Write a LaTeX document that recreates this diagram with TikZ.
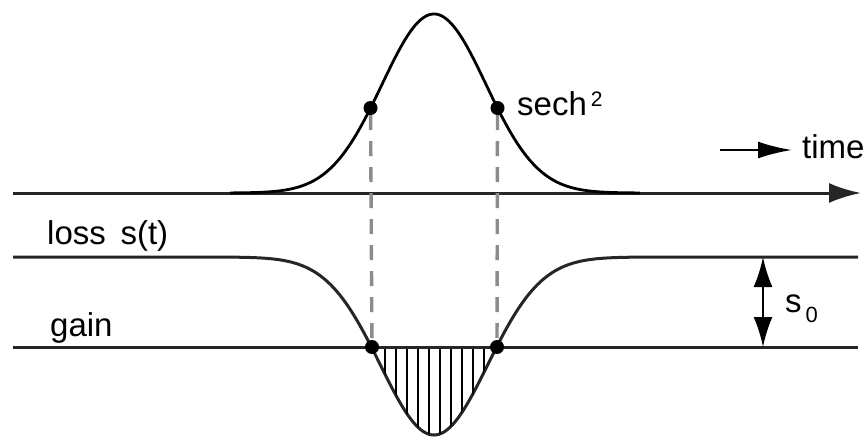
\documentclass[tikz,border=0pt]{standalone}
\usepackage{fontspec}
\setmainfont{Liberation Sans}
\usetikzlibrary{arrows.meta}
\begin{document}
\begin{tikzpicture}[x=1pt,y=-1pt,
  axisline/.style={line width=3pt,draw=black!85,line join=round},
  curve/.style={line width=2.8pt,draw=black},
  guide/.style={line width=3.4pt,draw=black!45,dash pattern=on 15pt off 11pt},
  dot/.style={circle,fill=black,inner sep=0pt,minimum size=14pt},
  lbl/.style={inner sep=0pt,anchor=base west,font=\fontsize{33}{40}\selectfont},
  hatch/.style={line width=2.4pt,draw=black},
  bigtip/.style={-{Latex[length=32pt,width=20pt]}},
  smalltip/.style={-{Latex[length=34pt,width=17pt]}},
  dbltip/.style={{Latex[length=30pt,width=19pt]}-{Latex[length=30pt,width=19pt]}}
]
\useasboundingbox (0,0) rectangle (864,437);

% time axis
\coordinate (axL) at (13,193);
\coordinate (axR) at (861,193);
\draw[axisline,bigtip] (axL) -- (axR);

% sech^2 pulse
\draw[curve] plot[domain=230:640,samples=160] (\x,{193-179*exp(-0.5*((\x-434)/52)^2)});

% loss line s(t)
\draw[axisline] (13,257) -- (230,257) -- plot[domain=230:640,samples=160] (\x,{257+178*exp(-0.5*((\x-434)/53.6)^2)}) -- (858,257);

% hatched net gain window
\begin{scope}
\clip plot[domain=372:497,samples=80] (\x,{257+178*exp(-0.5*((\x-434)/53.6)^2)}) -- cycle;
\foreach \h in {385,396,...,490} \draw[hatch] (\h,340) -- (\h,440);
\end{scope}

% gain line
\draw[axisline] (13,347) -- (858,347);

% dots
\node[dot] (p1) at (370.5,108) {};
\node[dot] (p2) at (497.5,108) {};
\node[dot] (g1) at (372,347) {};
\node[dot] (g2) at (497,347) {};

% dashed guides
\draw[guide] (p1) -- (g1);
\draw[guide] (p2) -- (g2);

% s0 arrow
\coordinate (sTop) at (763,257);
\coordinate (sBot) at (763,347);
\draw[line width=2.2pt,dbltip] (sTop) -- (sBot);

% time arrow
\coordinate (tA) at (720,150);
\coordinate (tB) at (792,150);
\draw[line width=2.6pt,smalltip] (tA) -- (tB);

% labels
\node[lbl] (sech) at (517,115) {sech\hspace{4pt}\raisebox{9pt}{\fontsize{21}{21}\selectfont 2}};
\node[lbl] (time) at (802,158) {time};
\node[lbl] (loss) at (47,244) {loss\ \,s(t)};
\node[lbl] (gain) at (50,336) {gain};
\node[lbl] (s0) at (785,312) {s\hspace{4pt}\raisebox{-10pt}{\fontsize{22}{22}\selectfont 0}};
\end{tikzpicture}
\end{document}
